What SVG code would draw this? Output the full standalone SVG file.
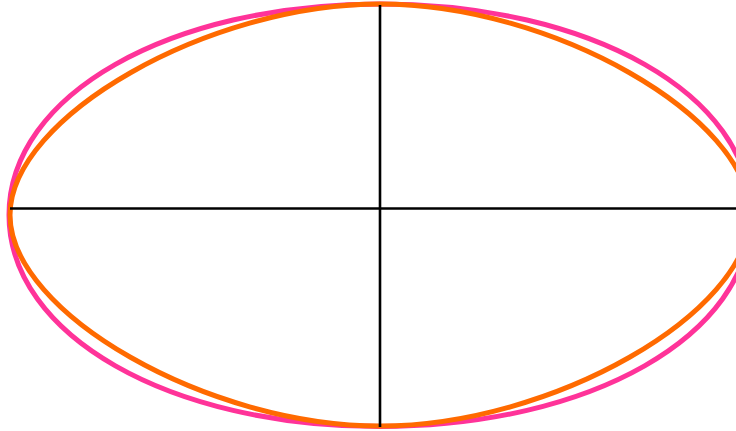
<svg xmlns="http://www.w3.org/2000/svg" width="736" height="431" viewBox="0 0 736 431">
  <style>
    .curve { fill: none; stroke-width: 5; }
    .pink { stroke: #ff3399; }
    .orange { stroke: #ff6a00; }
    .axis { fill: none; stroke: #000000; stroke-width: 2.6; }
  </style>
  <rect width="736" height="431" fill="#ffffff"/>
  <g id="ellipse-pink">
    <path class="curve pink" d="M 9,215 C 9,94.7 169.1,4 380,4 C 590.9,4 751,94.7 751,215 C 751,335.3 590.9,426.5 380,426.5 C 169.1,426.5 9,335.3 9,215 Z"/>
  </g>
  <g id="curve-orange">
    <path class="curve orange" d="M 10,215 C 10,116.9 207.95,4 380,4 C 552.05,4 750,116.9 750,215 C 750,313.1 552.05,426 380,426 C 207.95,426 10,313.1 10,215 Z"/>
  </g>
  <g id="connectors">
    <path class="axis" d="M 10,208.5 H 736"/>
    <path class="axis" d="M 380,5 V 427"/>
  </g>
</svg>
